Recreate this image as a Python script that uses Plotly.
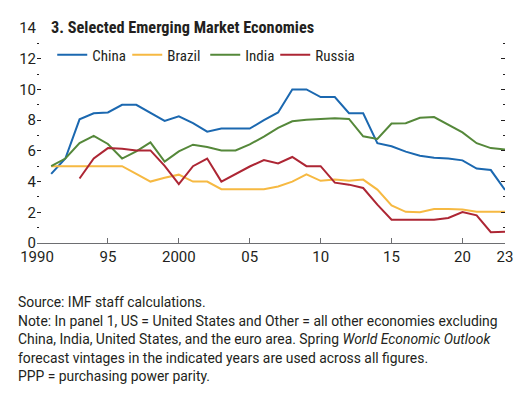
import plotly.graph_objects as go

years = list(range(1991, 2024))

china = [4.5, 5.5, 8.05, 8.45, 8.5, 9.0, 9.0, 8.5, 7.95, 8.25, 7.8, 7.25, 7.45, 7.45, 7.45,
         8.0, 8.5, 10.0, 10.0, 9.5, 9.5, 8.45, 8.45, 6.5, 6.3, 5.95, 5.68, 5.55, 5.5, 5.38,
         4.85, 4.75, 3.45]
brazil = [5.0, 5.0, 5.0, 5.0, 5.0, 5.0, 4.5, 4.0, 4.25, 4.45, 4.0, 4.0, 3.5, 3.5, 3.5,
          3.5, 3.68, 4.0, 4.47, 4.05, 4.13, 4.05, 4.13, 3.48, 2.45, 2.03, 2.0, 2.22, 2.22,
          2.18, 2.03, 2.03, 2.03]
india = [5.0, 5.5, 6.5, 6.97, 6.45, 5.5, 5.97, 6.55, 5.3, 5.97, 6.4, 6.25, 6.03, 6.03,
         6.42, 6.93, 7.5, 7.93, 8.03, 8.08, 8.12, 8.08, 6.95, 6.78, 7.78, 7.8, 8.15, 8.2,
         7.7, 7.2, 6.5, 6.18, 6.08]
russia = [None, None, 4.2, 5.5, 6.18, 6.13, 6.03, 6.03, 5.02, 3.83, 5.0, 5.5, 4.0, 4.5,
          4.98, 5.4, 5.18, 5.6, 5.0, 5.0, 3.93, 3.8, 3.58, 2.5, 1.52, 1.52, 1.52, 1.52,
          1.63, 2.02, 1.8, 0.7, 0.73]

series_names = ["China", "Brazil", "India", "Russia"]
series_values = [china, brazil, india, russia]
colors = ["#1b68b0", "#f6b942", "#55883a", "#ad2634"]
legend_widths = [30, 33, 25, 45]

x_tickvals = [1990, 1995, 2000, 2005, 2010, 2015, 2020, 2023]
x_ticktext = ["1990", "95", "2000", "05", "10", "15", "20", "23"]
y_tickvals = [0, 2, 4, 6, 8, 10, 12, 14]

title_text = "<b>3. Selected Emerging Market Economies</b>"
notes = [
    "Source: IMF staff calculations.",
    "Note: In panel 1, US = United States and Other = all other economies excluding",
    "China, India, United States, and the euro area. Spring <i>World Economic Outlook</i>",
    "forecast vintages in the indicated years are used across all figures.",
    "PPP = purchasing power parity.",
]

FONT = "Roboto, Liberation Sans, sans-serif"
COND_FONT = "Roboto Condensed, Roboto, sans-serif"
TXT = "#231f20"

# page body has an 8px margin; lay out in reference pixel coordinates
OFF = 8
W, H = 524 - OFF, 395 - OFF
PLOT_LEFT, PLOT_RIGHT, PLOT_TOP, PLOT_BOTTOM = 31, 513, 20, 243
L = PLOT_LEFT - OFF
T = PLOT_TOP - OFF
R = W - (PLOT_RIGHT - OFF)
B = H - (PLOT_BOTTOM - OFF)
plot_w = PLOT_RIGHT - PLOT_LEFT
plot_h = PLOT_BOTTOM - PLOT_TOP


def px_x(x):
    return (x - PLOT_LEFT) / plot_w


def px_y(y):
    return (PLOT_BOTTOM - y) / plot_h


fig = go.Figure()
for name, vals, col, lw in zip(series_names, series_values, colors, legend_widths):
    fig.add_trace(go.Scatter(x=years, y=vals, name=name, mode="lines",
                             line=dict(color=col, width=2), connectgaps=False,
                             legendwidth=lw))

fig.update_layout(
    width=W, height=H,
    margin=dict(l=L, r=R, t=T, b=B, pad=0),
    paper_bgcolor="white", plot_bgcolor="white",
    font=dict(family=FONT, size=15, color=TXT),
    showlegend=True,
    legend=dict(orientation="h", x=px_x(46.7), y=px_y(48), xanchor="left", yanchor="middle",
                font=dict(family=COND_FONT, size=15, color=TXT), bgcolor="rgba(0,0,0,0)",
                itemwidth=30, tracegroupgap=0, borderwidth=0),
    xaxis=dict(range=[1990, 2023], tickvals=x_tickvals, ticktext=x_ticktext,
               showgrid=False, zeroline=False, showline=True, linecolor="#6d6e71",
               linewidth=1, ticks="inside", ticklen=5, tickcolor="#6d6e71",
               tickfont=dict(size=15, color=TXT)),
    yaxis=dict(range=[0, 14], tickvals=y_tickvals, showgrid=False, zeroline=False,
               showline=False, ticks="inside", ticklen=4, tickcolor="#231f20",
               mirror="ticks", tickfont=dict(size=15, color=TXT),
               minor=dict(dtick=1, tick0=0, ticks="inside", ticklen=2, tickcolor="#231f20")),
)

fig.add_annotation(text=title_text, xref="paper", yref="paper", x=px_x(43), y=px_y(19),
                   xanchor="left", yanchor="middle", showarrow=False,
                   font=dict(family=COND_FONT, size=16.3, color=TXT))

note_y = [304, 323.5, 343, 362, 381]
for t, yy in zip(notes, note_y):
    fig.add_annotation(text=t, xref="paper", yref="paper", x=px_x(9), y=px_y(yy),
                       xanchor="left", yanchor="middle", showarrow=False,
                       font=dict(family=FONT, size=13.9, color=TXT))

fig.write_html("out.html")
